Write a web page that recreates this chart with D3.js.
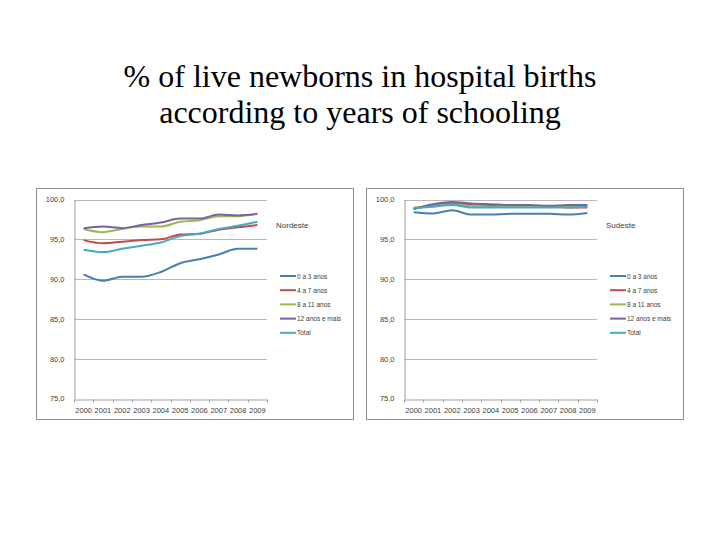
<!DOCTYPE html>
<html>
<head>
<meta charset="utf-8">
<script src="https://cdn.jsdelivr.net/npm/d3@7"></script>
<style>
  body { margin: 0; background: #fff; }
</style>
</head>
<body>
<div id="chart"></div>
<script>
const years = ["2000", "2001", "2002", "2003", "2004", "2005", "2006", "2007", "2008", "2009"];
const seriesNames = ["0 a 3 anos", "4 a 7 anos", "8 a 11 anos", "12 anos e mais", "Total"];
const yTicks = [75, 80, 85, 90, 95, 100];

// Nordeste
const ne0a3 = [90.6, 89.8, 90.3, 90.3, 90.9, 92.0, 92.5, 93.1, 93.8, 93.8];
const ne4a7 = [94.9, 94.5, 94.7, 94.9, 95.0, 95.6, 95.7, 96.2, 96.5, 96.8];
const ne8a11 = [96.3, 95.9, 96.3, 96.6, 96.6, 97.2, 97.4, 97.9, 97.9, 98.2];
const ne12 = [96.4, 96.6, 96.4, 96.8, 97.1, 97.6, 97.6, 98.1, 98.0, 98.2];
const neTotal = [93.7, 93.4, 93.8, 94.2, 94.6, 95.4, 95.7, 96.3, 96.7, 97.2];

// Sudeste
const se0a3 = [98.4, 98.25, 98.65, 98.1, 98.1, 98.2, 98.2, 98.2, 98.1, 98.3];
const se4a7 = [98.8, 99.3, 99.5, 99.3, 99.2, 99.1, 99.1, 99.1, 99.0, 99.0];
const se8a11 = [99.0, 99.2, 99.4, 99.2, 99.1, 99.1, 99.1, 99.1, 99.1, 99.2];
const se12 = [98.8, 99.4, 99.7, 99.5, 99.4, 99.3, 99.3, 99.2, 99.3, 99.3];
const seTotal = [98.9, 99.1, 99.3, 99.0, 99.0, 99.0, 99.0, 99.0, 99.0, 99.1];

const colors = ["#4a7ebb", "#be4b48", "#98b954", "#7d60a0", "#46aac5"];

const svg = d3.select("#chart").append("svg")
  .attr("width", 720)
  .attr("height", 540);

svg.append("rect").attr("width", 720).attr("height", 540).attr("fill", "#fff");

svg.append("text")
  .attr("x", 360).attr("y", 87)
  .attr("text-anchor", "middle")
  .style("font-family", "'Liberation Serif', 'Times New Roman', serif")
  .style("font-size", "32px")
  .attr("fill", "#000")
  .text("% of live newborns in hospital births");

svg.append("text")
  .attr("x", 360).attr("y", 123)
  .attr("text-anchor", "middle")
  .style("font-family", "'Liberation Serif', 'Times New Roman', serif")
  .style("font-size", "32px")
  .attr("fill", "#000")
  .text("according to years of schooling");

function drawPanel(offsetX, region, series) {
  let g = svg.append("g").attr("transform", "translate(" + offsetX + ",0)");

  // chart frame
  g.append("rect")
    .attr("x", 36.5).attr("y", 188.5)
    .attr("width", 317).attr("height", 231)
    .attr("fill", "#fff")
    .attr("stroke", "#8c8c8c")
    .attr("stroke-width", 1);

  let x = d3.scaleBand().domain(years).range([74, 267]).padding(0);
  let y = d3.scaleLinear().domain([75, 100]).range([398.5, 199.5]);

  // gridlines
  g.append("g")
    .selectAll("line")
    .data(yTicks.filter(d => d > 75))
    .enter()
    .append("line")
    .attr("x1", 74).attr("x2", 267)
    .attr("y1", d => Math.round(y(d)) + 0.5)
    .attr("y2", d => Math.round(y(d)) + 0.5)
    .attr("stroke", "#b8b8b8")
    .attr("stroke-width", 1);

  // y axis
  let yAxis = g.append("g")
    .attr("transform", "translate(74.5,0)")
    .call(d3.axisLeft(y).tickValues(yTicks).tickSize(0).tickPadding(10)
      .tickFormat(d => d3.format(".1f")(d).replace(".", ",")));
  yAxis.select(".domain").attr("stroke", "#a0a0a0");
  yAxis.selectAll("text")
    .style("font-family", "'Liberation Sans', Arial, sans-serif")
    .style("font-size", "7.5px")
    .attr("fill", "#404040");

  // x axis
  let xAxis = g.append("g")
    .attr("transform", "translate(0," + (Math.round(y(75)) + 0.5) + ")")
    .call(d3.axisBottom(x).tickSize(0).tickPadding(8));
  xAxis.select(".domain").attr("stroke", "#a0a0a0");
  xAxis.selectAll("text")
    .style("font-family", "'Liberation Sans', Arial, sans-serif")
    .style("font-size", "7.5px")
    .attr("fill", "#404040");
  xAxis.append("g")
    .selectAll("line")
    .data(d3.range(years.length + 1))
    .enter()
    .append("line")
    .attr("x1", i => Math.round(74 + i * x.step()) + 0.5)
    .attr("x2", i => Math.round(74 + i * x.step()) + 0.5)
    .attr("y1", 0).attr("y2", 3)
    .attr("stroke", "#a0a0a0");

  // lines
  let line = d3.line()
    .x((d, i) => x(years[i]) + x.bandwidth() / 2)
    .y(d => y(d))
    .curve(d3.curveMonotoneX);

  g.append("g")
    .selectAll("path")
    .data(series)
    .enter()
    .append("path")
    .attr("d", d => line(d))
    .attr("fill", "none")
    .attr("stroke", (d, i) => colors[i])
    .attr("stroke-width", 2)
    .attr("stroke-linejoin", "round");

  // legend
  g.append("text")
    .attr("x", 276).attr("y", 228)
    .style("font-family", "'Liberation Sans', Arial, sans-serif")
    .style("font-size", "8px")
    .attr("fill", "#404040")
    .text(region);

  let legend = g.append("g")
    .selectAll("g")
    .data(seriesNames)
    .enter()
    .append("g")
    .attr("transform", (d, i) => "translate(280," + (276 + i * 14.2) + ")");

  legend.append("line")
    .attr("x1", 0).attr("x2", 16)
    .attr("y1", 0).attr("y2", 0)
    .attr("stroke", (d, i) => colors[i])
    .attr("stroke-width", 2);

  legend.append("text")
    .attr("x", 17).attr("y", 2.5)
    .style("font-family", "'Liberation Sans', Arial, sans-serif")
    .style("font-size", "6.5px")
    .attr("fill", "#404040")
    .text(d => d);
}

drawPanel(0, "Nordeste", [ne0a3, ne4a7, ne8a11, ne12, neTotal]);
drawPanel(330, "Sudeste", [se0a3, se4a7, se8a11, se12, seTotal]);
</script>
</body>
</html>
